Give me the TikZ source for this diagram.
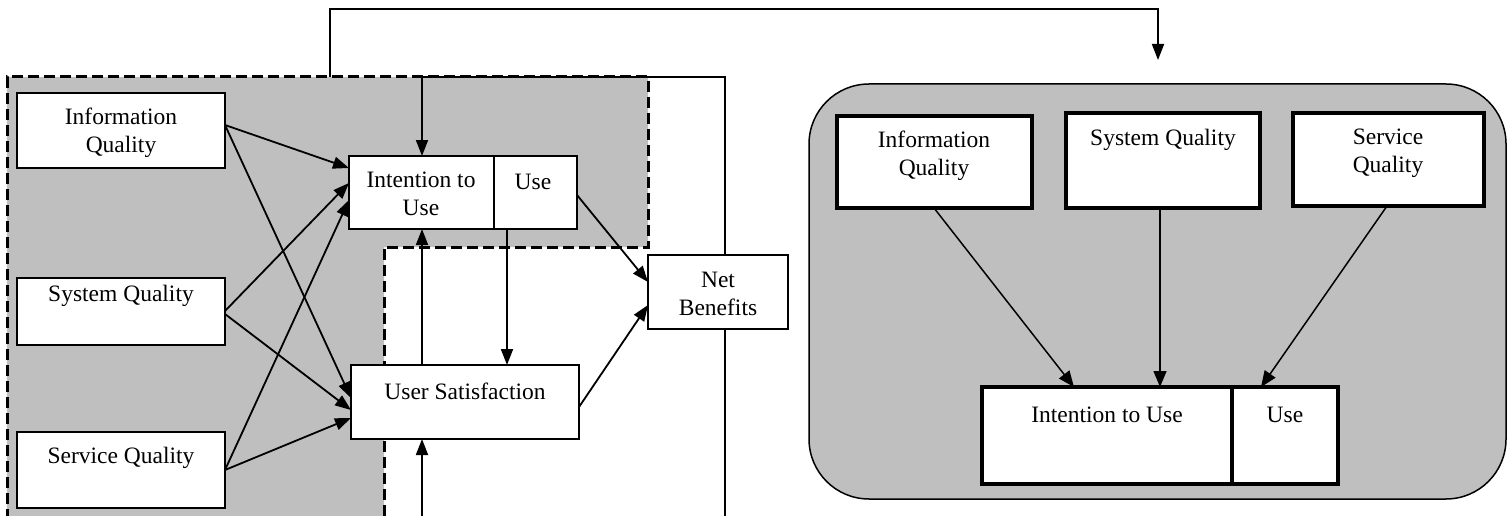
\documentclass[tikz,border=0pt]{standalone}
\usepackage{fontspec}
\setmainfont{Liberation Serif}
\usetikzlibrary{arrows.meta}
\definecolor{grayfill}{RGB}{191,191,191}
\begin{document}
\begin{tikzpicture}[x=1pt,y=-1pt,
  box/.style={draw, fill=white, line width=2pt, inner sep=0pt, outer sep=0pt},
  tbox/.style={draw, fill=white, line width=3.5pt, inner sep=0pt, outer sep=0pt},
  lbl/.style={inner sep=0pt, align=center, font=\fontsize{23.5}{28}\selectfont},
  arr/.style={line width=1.8pt, -{Triangle[length=16pt,width=12pt]}},
  rarr/.style={line width=1.5pt, -{Triangle[length=16pt,width=13pt]}},
  ln/.style={line width=1.8pt},
  dsh/.style={line width=3pt, dash pattern=on 11pt off 5pt},
  ]
\clip (0,0) rectangle (1509,516);
% grey L-shaped region
\fill[grayfill] (7,520) -- (7,77) -- (648,77) -- (648,247) -- (384,247) -- (384,520) -- cycle;
\draw[dsh] (7,520) -- (7,77) -- (648,77) -- (648,247) -- (384,247) -- (384,520);

% left boxes
\node[box, minimum width=208pt, minimum height=75pt] (iq) at (121,130.5) {};
\node[lbl] (iqt) at (121,133) {Information\\Quality};
\node[box, minimum width=208pt, minimum height=67pt] (sq) at (121,311.5) {};
\node[lbl] (sqt) at (121,296) {System Quality};
\node[box, minimum width=208pt, minimum height=76pt] (svq) at (121,470) {};
\node[lbl] (svqt) at (121,458) {Service Quality};

\node[box, minimum width=145pt, minimum height=73pt] (iu) at (421.5,192.5) {};
\node[lbl] (iut) at (421,194) {Intention to\\Use};
\node[box, minimum width=83pt, minimum height=73pt] (use) at (535.5,192.5) {};
\node[lbl] (uset) at (533,182) {Use};
\node[box, minimum width=228pt, minimum height=74pt] (us) at (465,402) {};
\node[lbl] (ust) at (465,391) {User Satisfaction};
\node[box, minimum width=140pt, minimum height=74pt] (nb) at (718,292) {};
\node[lbl] (nbt) at (718,294) {Net\\Benefits};

% left connectors
\draw[arr] (iq.east |- 0,125) -- (iu.west |- 0,168);
\draw[arr] (iq.east |- 0,125) -- (us.west |- 0,398);
\draw[arr] (sq.east |- 0,311) -- (iu.west |- 0,183);
\draw[arr] (sq.east |- 0,314) -- (us.west |- 0,410);
\draw[arr] (svq.east |- 0,470) -- (iu.west |- 0,200);
\draw[arr] (svq.east |- 0,470) -- (us.west |- 0,418);

\draw[arr] (us.north -| 422,0) -- (iu.south -| 422,0);
\draw[arr] (use.south -| 507,0) -- (us.north -| 507,0);
\draw[arr] (use.east |- 0,195) -- (nb.west |- 0,282);
\draw[arr] (us.east |- 0,407) -- (nb.west |- 0,305);

\draw[arr] (725,0 |- nb.north) -- (725,77) -- (422,77) -- (iu.north -| 422,0);
\draw[ln] (725,0 |- nb.south) -- (725,520);
\coordinate (bot) at (422,520);
\draw[arr] (bot) -- (us.south -| 422,0);

% right panel
\node[draw, fill=grayfill, line width=1.5pt, rounded corners=60pt, minimum width=697pt, minimum height=415pt, inner sep=0pt] (panel) at (1157.5,291.5) {};

\coordinate (top1) at (330,77);
\coordinate (tip) at (1158,60);
\draw[arr] (top1) -- (330,9) -- (1158,9) -- (tip);

\node[tbox, minimum width=195pt, minimum height=92pt] (riq) at (934.5,162) {};
\node[lbl] (riqt) at (934,156) {Information\\Quality};
\node[tbox, minimum width=194pt, minimum height=95pt] (rsq) at (1163,160.5) {};
\node[lbl] (rsqt) at (1163,140) {System Quality};
\node[tbox, minimum width=191pt, minimum height=93pt] (rsv) at (1388.5,159.5) {};
\node[lbl] (rsvt) at (1388,153) {Service\\Quality};

\node[tbox, minimum width=250pt, minimum height=97pt] (riu) at (1107,435.5) {};
\node[lbl] (riut) at (1107,415) {Intention to Use};
\node[tbox, minimum width=106pt, minimum height=97pt] (ruse) at (1285,435.5) {};
\node[lbl] (ruset) at (1285,415) {Use};

\draw[rarr] (934,0 |- riq.south) -- (1074,0 |- riu.north);
\draw[rarr] (1160,0 |- rsq.south) -- (1160,0 |- riu.north);
\draw[rarr] (1387,0 |- rsv.south) -- (1261,0 |- ruse.north);
\end{tikzpicture}
\end{document}
